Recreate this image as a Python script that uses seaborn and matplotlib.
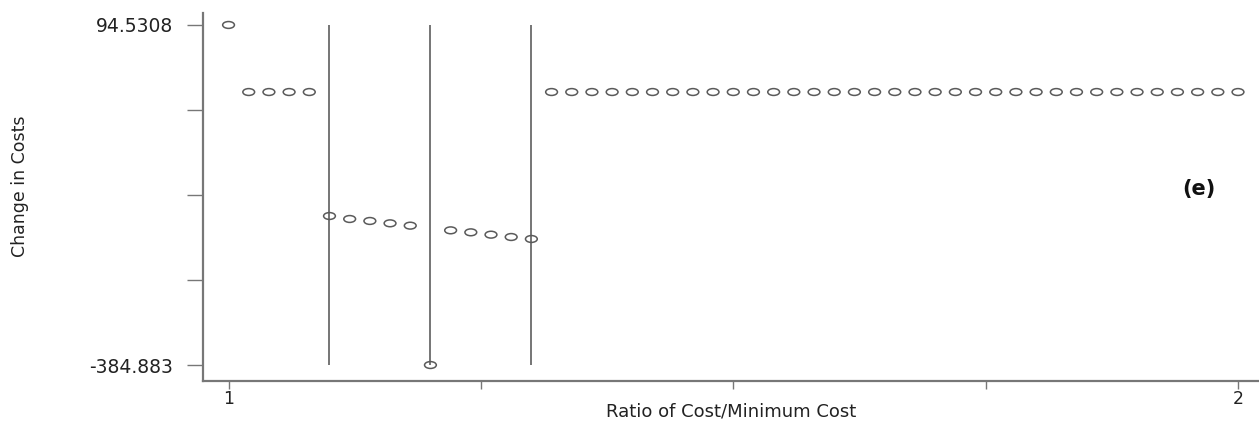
import numpy as np
import pandas as pd
import matplotlib
matplotlib.use("Agg")
import matplotlib.pyplot as plt
import seaborn as sns
from matplotlib.path import Path

# ---- data ----
ratio = [round(1.0 + 0.02 * i, 2) for i in range(51)]
change = ([94.5308, 0, 0, 0, 0,
           -174.8, -179.0, -181.8, -185.1, -188.4,
           -384.883,
           -195.0, -197.8, -201.1, -204.4, -207.2]
          + [0] * 35)
vline_x = [1.10, 1.20, 1.30]
xtick_vals = [1.0, 1.25, 1.5, 1.75, 2.0]
xtick_labels = ["1", "", "", "", "2"]
ymin_val, ymax_val = -384.883, 94.5308
ytick_labels = ["-384.883", "", "", "", "94.5308"]
panel_label = "(e)"

df = pd.DataFrame({"ratio": ratio, "change": change})

sns.set_theme(style="white")
plt.rcParams["font.family"] = ["DejaVu Sans"]

fig = plt.figure(figsize=(12.59, 4.22), dpi=100)
ax = fig.add_axes([203 / 1259, 41 / 422, 1 - 203 / 1259, (381 - 13) / 422])

grey = "#5a5a5a"
ax.vlines(vline_x, ymin_val, ymax_val, colors="#6a6a6a", linewidth=1.3, zorder=1)

circ = Path.unit_circle()
ell = Path(circ.vertices * np.array([1.0, 0.58]), circ.codes)
sns.scatterplot(data=df, x="ratio", y="change", ax=ax, marker=ell, s=72,
                facecolor="none", edgecolor=grey, linewidth=1.1, zorder=3)

ax.set_xlim(0.9747, 2.0208)
ax.set_ylim(-407.4, 111.4)

ax.set_xticks(xtick_vals)
ax.set_xticklabels(xtick_labels)
yt = np.linspace(ymin_val, ymax_val, 5)
ax.set_yticks(yt)
ax.set_yticklabels(ytick_labels)

for s in ["top", "right"]:
    ax.spines[s].set_visible(False)
for s in ["left", "bottom"]:
    ax.spines[s].set_color("#777777")
    ax.spines[s].set_linewidth(1.6)

ax.tick_params(axis="y", direction="out", length=11.5, width=1, color="#777777",
               pad=10, labelsize=13.5, labelcolor="#222222", left=True)
ax.tick_params(axis="x", direction="out", length=5.5, width=1, color="#777777",
               pad=1, labelsize=12.5, labelcolor="#222222", bottom=True)

ax.set_xlabel("")
ax.set_ylabel("")
fig.text((203 + 1259) / 2 / 1259, (422 - 411) / 422, "Ratio of Cost/Minimum Cost",
         ha="center", va="center", fontsize=13, color="#222222")
fig.text(0.016, (422 - 186) / 422, "Change in Costs", rotation=90, ha="center",
         va="center", fontsize=12.5, color="#222222")

ax.text(1.961, -136.7, panel_label, fontsize=15, fontweight="bold",
        ha="center", va="center", color="#111111")

fig.savefig("out.png", dpi=100)
